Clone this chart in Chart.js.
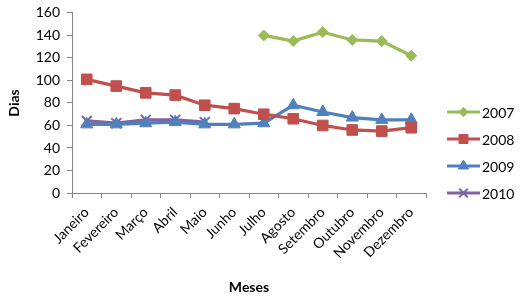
<!DOCTYPE html>
<html>
<head>
<meta charset="utf-8">
<script src="https://cdn.jsdelivr.net/npm/chart.js@4/dist/chart.umd.min.js"></script>
<style>
  html, body { margin: 0; padding: 0; background: #fff; }
  #wrap { width: 522px; height: 306px; }
</style>
</head>
<body>
<div id="wrap"><canvas id="grafico" width="522" height="306"></canvas></div>
<script>
// Dados
const meses = ['Janeiro', 'Fevereiro', 'Março', 'Abril', 'Maio', 'Junho',
               'Julho', 'Agosto', 'Setembro', 'Outubro', 'Novembro', 'Dezembro'];
const dias2007 = [null, null, null, null, null, null, 140, 135, 143, 136, 135, 122];
const dias2008 = [101, 95, 89, 87, 78, 75, 70, 66, 60, 56, 55, 58];
const dias2009 = [61, 61, 62, 63, 61, 61, 62, 78, 72, 67, 65, 65];
const dias2010 = [64, 62, 65, 65, 63, null, null, null, null, null, null, null];
const yTicks = [0, 20, 40, 60, 80, 100, 120, 140, 160];

const fonte = 'Lato, "Open Sans", sans-serif';

function serie(label, data, cor, estilo, raio, bw) {
    return {
        label: label,
        data: data,
        borderColor: cor,
        backgroundColor: cor,
        borderWidth: 3.25,
        pointStyle: estilo,
        pointRadius: raio,
        pointHoverRadius: raio,
        pointBorderWidth: bw,
        pointBackgroundColor: cor,
        pointBorderColor: cor,
        tension: 0,
        spanGaps: false
    };
}

// legenda estilo Excel: linha + marcador
const legendaExcel = {
    id: 'legendaExcel',
    afterDraw(chart) {
        const ctx = chart.ctx;
        const area = chart.chartArea;
        const n = chart.data.datasets.length;
        chart.data.datasets.forEach((ds, i) => {
            const y = area.bottom - 27 * (n - 1 - i);
            const x0 = area.right + 21;
            ctx.save();
            ctx.strokeStyle = ds.borderColor;
            ctx.lineWidth = 3;
            ctx.beginPath();
            ctx.moveTo(x0, y);
            ctx.lineTo(x0 + 33, y);
            ctx.stroke();
            ctx.fillStyle = ds.pointBackgroundColor;
            ctx.strokeStyle = ds.pointBorderColor;
            ctx.lineWidth = ds.pointBorderWidth;
            Chart.helpers.drawPoint(ctx, {
                pointStyle: ds.pointStyle,
                radius: ds.pointRadius * 0.85,
                borderWidth: ds.pointBorderWidth,
                rotation: 0
            }, x0 + 16.5, y);
            ctx.fillStyle = '#000';
            ctx.font = '14px ' + fonte;
            ctx.textBaseline = 'middle';
            ctx.textAlign = 'left';
            ctx.fillText(ds.label, x0 + 35, y + 1);
            ctx.restore();
        });
    }
};

const ctx = document.getElementById('grafico').getContext('2d');
new Chart(ctx, {
    type: 'line',
    data: {
        labels: meses,
        datasets: [
            serie('2007', dias2007, '#9BBB59', 'rectRot', 5.5, 1),
            serie('2008', dias2008, '#C0504D', 'rect', 7.5, 1),
            serie('2009', dias2009, '#4F81BD', 'triangle', 7, 1),
            serie('2010', dias2010, '#8064A2', 'crossRot', 7, 2)
        ]
    },
    options: {
        responsive: false,
        animation: false,
        events: [],
        layout: { autoPadding: false, padding: { top: 6, right: 96, left: 0, bottom: 0 } },
        plugins: {
            legend: { display: false },
            tooltip: { enabled: false }
        },
        scales: {
            x: {
                offset: true,
                grid: {
                    offset: true,
                    drawOnChartArea: false,
                    drawTicks: true,
                    tickLength: 5,
                    color: '#868686'
                },
                border: { color: '#868686', width: 1 },
                ticks: {
                    color: '#000',
                    font: { family: fonte, size: 14 },
                    maxRotation: 45,
                    minRotation: 45,
                    autoSkip: false,
                    padding: 6
                },
                title: {
                    display: true,
                    text: 'Meses',
                    color: '#000',
                    font: { family: fonte, size: 14, weight: 'bold' },
                    padding: { top: 4, bottom: 10.6 }
                },
                afterFit(scale) { scale.height = 113; }
            },
            y: {
                min: 0,
                max: 160,
                afterBuildTicks(scale) { scale.ticks = yTicks.map(v => ({ value: v })); },
                grid: {
                    drawOnChartArea: false,
                    drawTicks: true,
                    tickLength: 5,
                    color: '#868686'
                },
                border: { color: '#868686', width: 1 },
                ticks: {
                    color: '#000',
                    font: { family: fonte, size: 14, lineHeight: 0.85 },
                    padding: 7
                },
                title: {
                    display: true,
                    text: 'Dias',
                    color: '#000',
                    font: { family: fonte, size: 14, weight: 'bold' },
                    padding: { top: 6, bottom: 0 }
                },
                afterFit(scale) { scale.width = 72; }
            }
        }
    },
    plugins: [legendaExcel]
});
</script>
</body>
</html>
